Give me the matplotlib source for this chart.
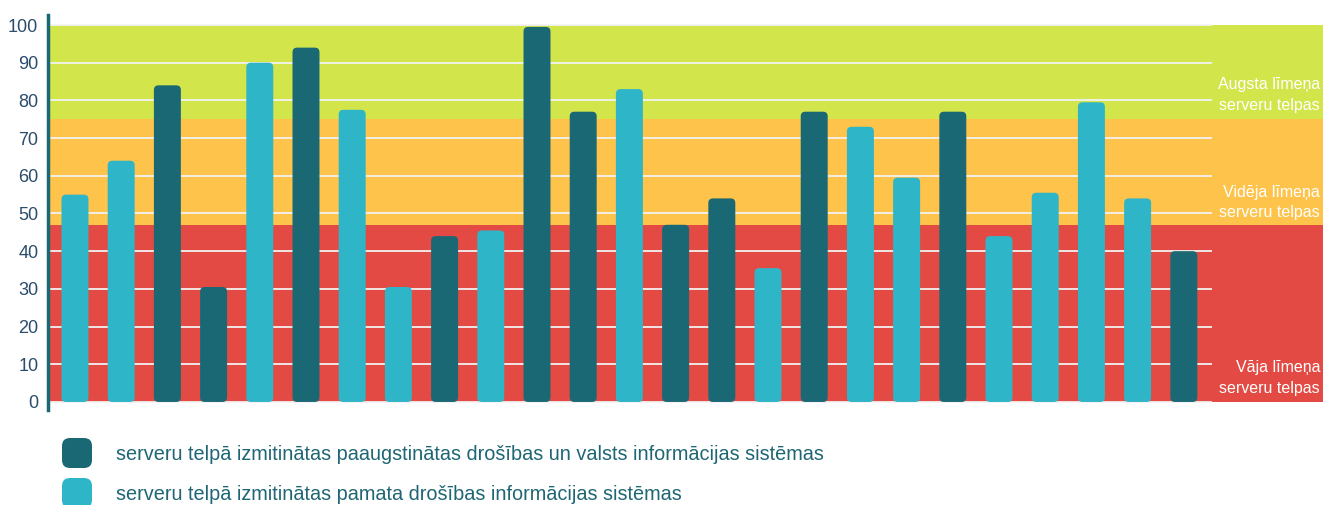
import matplotlib
matplotlib.use("Agg")
import matplotlib.pyplot as plt
from matplotlib.patches import FancyBboxPatch

# bar heights, left to right
values = [55, 64, 84, 30.5, 90, 94, 77.5, 30.5, 44, 45.5, 99.5, 77, 83, 47, 54,
          35.5, 77, 73, 59.5, 77, 44, 55.5, 79.5, 54, 40]
# 'D' = paaugstinātas drošības, 'L' = pamata drošības
kinds = list("LLDDLDLLDLDDLDDLDLLDLLLLD")

bands = [(0, 47, "#e24a43"), (47, 75, "#fec34a"), (75, 100, "#d2e64c")]
band_labels = ["Vāja līmeņa\nserveru telpas", "Vidēja līmeņa\nserveru telpas",
               "Augsta līmeņa\nserveru telpas"]
legend_labels = ["serveru telpā izmitinātas paaugstinātas drošības un valsts informācijas sistēmas",
                 "serveru telpā izmitinātas pamata drošības informācijas sistēmas"]
yticks = [0, 10, 20, 30, 40, 50, 60, 70, 80, 90, 100]

dark = "#1b6875"
light = "#2fb5c8"
font = ["Liberation Sans", "DejaVu Sans"]

W, H = 1323, 505
fig = plt.figure(figsize=(W / 100, H / 100), dpi=100)
# axes: x from 48px to 1212px, y from -2 (409.5px) to 102.6 (15.2px)
ax = fig.add_axes([48 / W, (H - 409.5) / H, 1164 / W, (409.5 - 15.2) / H])
ax.set_xlim(-0.584, 24.61)
ax.set_ylim(-2, 102.6)

x_over = (W - 48) / 1164
for lo, hi, col in bands:
    ax.axhspan(lo, hi, xmin=0, xmax=x_over, color=col, lw=0, zorder=0, clip_on=False)

for t in yticks:
    ax.axhline(t, color="#f2f2f2", lw=1.3, zorder=1)

# rounded bars
ypx = 377 / 100.0
xpx = 46.2
for i, (v, k) in enumerate(zip(values, kinds)):
    w = 0.584
    p = FancyBboxPatch((i - w / 2, 0), w, v, boxstyle="round,pad=0,rounding_size=0.1",
                       mutation_aspect=xpx / ypx, fc=dark if k == "D" else light,
                       ec="none", zorder=2)
    ax.add_patch(p)

ax.set_yticks(yticks)
ax.set_yticklabels([str(t) for t in yticks])
ax.set_xticks([])
ax.tick_params(axis="y", length=0, pad=7, labelsize=13, labelcolor="#2b4c6c")
for lab in ax.get_yticklabels():
    lab.set_family(font)
for s in ["top", "right", "bottom"]:
    ax.spines[s].set_visible(False)
ax.spines["left"].set_color(dark)
ax.spines["left"].set_linewidth(2.5)

# labels at right side of the bands
label_y = [(367 + 389) / 2, (192 + 213) / 2, (83 + 107) / 2]
for txt, yp in zip(band_labels, label_y):
    fig.text(1320 / W, 1 - yp / H, txt, ha="right", va="center", color="white",
             fontsize=11.5, family=font, linespacing=1.5)

# legend
for j, (txt, col) in enumerate(zip(legend_labels, [dark, light])):
    y0 = 438 + j * 40
    box = FancyBboxPatch((62 / W, 1 - (y0 + 30) / H), 30 / W, 30 / H,
                         boxstyle="round,pad=0,rounding_size=0.006",
                         mutation_aspect=W / H, transform=fig.transFigure,
                         fc=col, ec="none")
    fig.add_artist(box)
    fig.text(116 / W, 1 - (y0 + 17) / H, txt, ha="left", va="center",
             color="#1f6674", fontsize=14.3, family=font)

fig.savefig("out.png", dpi=100)
